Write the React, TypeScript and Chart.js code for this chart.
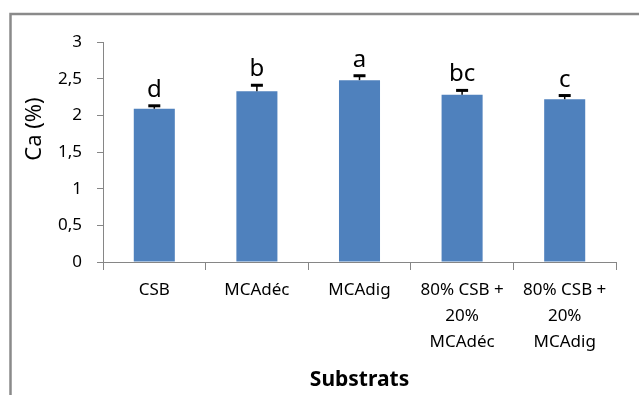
import React, { useEffect, useRef } from "react";
import { Chart, registerables } from "chart.js";

Chart.register(...registerables);

const categories: string[][] = [
  ["CSB"],
  ["MCAdéc"],
  ["MCAdig"],
  ["80% CSB +", "20%", "MCAdéc"],
  ["80% CSB +", "20%", "MCAdig"],
];
const caValues = [2.09, 2.33, 2.48, 2.28, 2.22];
const caErrors = [0.04, 0.08, 0.06, 0.06, 0.05];
const groupLetters = ["d", "b", "a", "bc", "c"];
const yTitle = "Ca (%)";
const xTitle = "Substrats";
const yMin = 0;
const yMax = 3;
const yStep = 0.5;

const FONT = "'Noto Sans', 'DejaVu Sans', sans-serif";
const AXIS_GRAY = "#868686";

const framePlugin = {
  id: "frame",
  beforeDraw(chart: any) {
    const ctx = chart.ctx;
    ctx.save();
    ctx.fillStyle = "#ffffff";
    ctx.fillRect(0, 0, chart.width, chart.height);
    ctx.strokeStyle = "#8a8a8a";
    ctx.lineWidth = 2.5;
    ctx.beginPath();
    ctx.moveTo(10.5, chart.height + 5);
    ctx.lineTo(10.5, 14);
    ctx.lineTo(chart.width + 5, 14);
    ctx.stroke();
    ctx.restore();
  },
  afterDraw(chart: any) {
    const ctx = chart.ctx;
    ctx.save();
    ctx.translate(35, 129);
    ctx.rotate(-Math.PI / 2);
    ctx.fillStyle = "#000000";
    ctx.font = `22px ${FONT}`;
    ctx.textAlign = "center";
    ctx.textBaseline = "middle";
    ctx.fillText(yTitle, 0, 0);
    ctx.restore();
  },
};

const errorLetterPlugin = {
  id: "errorLetters",
  afterDatasetsDraw(chart: any) {
    const ctx = chart.ctx;
    const meta = chart.getDatasetMeta(0);
    const yScale = chart.scales.y;
    ctx.save();
    meta.data.forEach((bar: any, i: number) => {
      const x = bar.x;
      const yBase = yScale.getPixelForValue(caValues[i]);
      const yTop = yScale.getPixelForValue(caValues[i] + caErrors[i]);
      ctx.strokeStyle = "#000000";
      ctx.lineWidth = 1.5;
      ctx.beginPath();
      ctx.moveTo(x, yBase);
      ctx.lineTo(x, yTop);
      ctx.stroke();
      ctx.lineWidth = 3;
      ctx.beginPath();
      ctx.moveTo(x - 6, yTop);
      ctx.lineTo(x + 6, yTop);
      ctx.stroke();
      ctx.fillStyle = "#000000";
      ctx.font = `24px ${FONT}`;
      ctx.textAlign = "center";
      ctx.textBaseline = "alphabetic";
      ctx.fillText(groupLetters[i], x, yTop - 9);
    });
    ctx.restore();
  },
};

export default function App() {
  const canvasRef = useRef<HTMLCanvasElement | null>(null);

  useEffect(() => {
    if (!canvasRef.current) return;
    const chart = new Chart(canvasRef.current, {
      type: "bar",
      data: {
        labels: categories as any,
        datasets: [
          {
            label: yTitle,
            data: caValues,
            backgroundColor: "#4F81BD",
            borderWidth: 0,
            barPercentage: 0.8,
            categoryPercentage: 0.5,
          },
        ],
      },
      options: {
        animation: false,
        responsive: false,
        maintainAspectRatio: false,
        layout: { padding: { left: 20, right: 23, top: 42, bottom: 0 } },
        plugins: {
          legend: { display: false },
          tooltip: { enabled: false },
        },
        scales: {
          x: {
            grid: {
              display: true,
              drawOnChartArea: false,
              drawTicks: true,
              tickLength: 8,
              color: AXIS_GRAY,
              offset: true,
            },
            border: { display: true, color: AXIS_GRAY, width: 1 },
            ticks: {
              color: "#000000",
              font: { family: FONT, size: 17, lineHeight: 1.53 },
              padding: 7,
              maxRotation: 0,
              autoSkip: false,
            },
            title: {
              display: true,
              text: xTitle,
              color: "#000000",
              font: { family: FONT, size: 21, weight: "bold" },
              padding: { top: 0, bottom: 2 },
            },
            afterFit(scale: any) {
              scale.height = 395 - 262;
            },
          },
          y: {
            min: yMin,
            max: yMax,
            grid: {
              display: true,
              drawOnChartArea: false,
              drawTicks: true,
              tickLength: 6,
              color: AXIS_GRAY,
            },
            border: { display: true, color: AXIS_GRAY, width: 1 },
            ticks: {
              stepSize: yStep,
              color: "#000000",
              font: { family: FONT, size: 17 },
              padding: 15,
              callback: (v: any) => String(v).replace(".", ","),
            },
            title: { display: false },
            afterFit(scale: any) {
              scale.width = 103 - 20;
            },
          },
        },
      },
      plugins: [framePlugin, errorLetterPlugin],
    });
    return () => chart.destroy();
  }, []);

  return (
    <div style={{ position: "fixed", left: 0, top: 0, width: 639, height: 395, background: "#fff" }}>
      <canvas ref={canvasRef} width={639} height={395} style={{ width: 639, height: 395 }} />
    </div>
  );
}
